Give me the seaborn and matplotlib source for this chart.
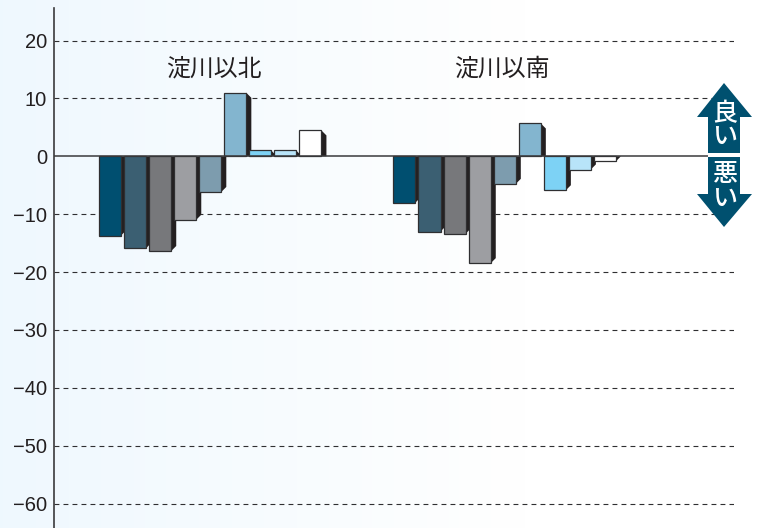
import numpy as np
import pandas as pd
import matplotlib
matplotlib.use("Agg")
import matplotlib.pyplot as plt
from matplotlib.patches import Polygon
import seaborn as sns

groups = ["淀川以北", "淀川以南"]
items = list("ABCDEFGHI")
north = [-13.7, -15.9, -16.4, -11.0, -6.2, 11.0, 1.0, 1.0, 4.5]
south = [-8.0, -13.0, -13.4, -18.5, -4.8, 5.7, -5.9, -2.3, -0.9]
colors = ["#004f70", "#3b5f72", "#77787b", "#9d9ea2", "#7d9cae",
          "#83b5cf", "#7dd2f5", "#b8e4f9", "#ffffff"]
yticks = [20, 10, 0, -10, -20, -30, -40, -50, -60]

W, H = 761, 528
sns.set_theme(style="white")
plt.rcParams["font.family"] = ["Liberation Sans", "Noto Sans CJK JP", "DejaVu Sans"]
JP = ["Noto Sans CJK JP", "DejaVu Sans"]
DARK = "#231f20"

fig = plt.figure(figsize=(W / 100, H / 100), dpi=100)

# background gradient
bg = fig.add_axes([0, 0, 1, 1], zorder=0)
grad = np.clip(np.linspace(0, 1.45, 256), 0, 1)[None, :, None]
c0, c1 = np.array([0.937, 0.973, 0.998]), np.array([1.0, 1.0, 1.0])
bg.imshow(c0 + (c1 - c0) * grad, aspect="auto", extent=[0, 1, 0, 1])
bg.axis("off")

ax = fig.add_axes([54 / W, 0, (734 - 54) / W, 520 / H], zorder=1)
ax.patch.set_alpha(0)

df = pd.DataFrame({
    "group": np.repeat(groups, len(items)),
    "item": items * 2,
    "value": north + south,
})
sns.barplot(data=df, x="group", y="value", hue="item", hue_order=items,
            palette=colors, saturation=1, width=0.765, gap=0.12, dodge=True,
            edgecolor="#2f2f31", linewidth=0.9, legend=False, ax=ax, zorder=3)

ax.set_xlim(-0.53, 1.779)
ax.set_ylim(-64.23, 25.62)
ax.set_yticks(yticks)
ax.set_yticklabels([str(t).replace("-", "−") for t in yticks], color=DARK, fontsize=14.5)
ax.set_xticks([])
ax.set_xlabel("")
ax.set_ylabel("")
ax.tick_params(axis="y", length=0, pad=5)
for s in ["top", "right", "bottom"]:
    ax.spines[s].set_visible(False)
ax.spines["left"].set_color("#3a3a3c")
ax.spines["left"].set_linewidth(1.2)
ax.yaxis.grid(True, color="#2f2f31", linewidth=0.8, linestyle=(0, (4.4, 3.7)), zorder=1)
ax.set_axisbelow(True)
ax.yaxis.get_gridlines()[yticks.index(0)].set_visible(False)

# extruded dark side of every bar
fig.canvas.draw()
to_px = ax.transData
to_data = ax.transData.inverted()
DEPTH = 5.2
bars = sorted([p for p in ax.patches if p.get_width() > 0], key=lambda p: p.get_x())
for i, p in enumerate(bars):
    p.set_zorder(3 + i * 0.01 + 0.005)
    x1 = p.get_x() + p.get_width()
    v = p.get_height() if p.get_y() == 0 else p.get_y()
    (px, py0) = to_px.transform((x1, 0))
    (_, pyv) = to_px.transform((x1, v))
    d = min(DEPTH, abs(pyv - py0))
    sign = 1 if pyv > py0 else -1
    pts = [(px, py0), (px, pyv), (px + DEPTH, pyv - sign * d), (px + DEPTH, py0)]
    ax.add_patch(Polygon(to_data.transform(pts), closed=True, facecolor=DARK,
                         edgecolor="none", zorder=3 + i * 0.01))

# baseline
(base_end, _) = to_data.transform((708, 0))
ax.plot([ax.get_xlim()[0], base_end], [0, 0], color="#3a3a3c", lw=1.1, zorder=5,
        solid_capstyle="butt")

# group titles
ax.text(0.012, 15.1, groups[0], ha="center", va="center", fontsize=17.2, family=JP,
        color=DARK, zorder=6)
ax.text(0.99, 15.1, groups[1], ha="center", va="center", fontsize=17.2, family=JP,
        color=DARK, zorder=6)

# good / bad arrow overlay in pixel coordinates
ov = fig.add_axes([0, 0, 1, 1], zorder=2)
ov.set_xlim(0, W)
ov.set_ylim(H, 0)
ov.axis("off")
TEAL = "#00506f"
ov.add_patch(Polygon([(724, 83), (752, 117), (740, 117), (740, 153), (708, 153),
                      (708, 117), (697, 117)], closed=True, fc=TEAL, ec="none"))
ov.add_patch(Polygon([(708, 157), (740, 157), (740, 194), (752, 194), (724, 227),
                      (697, 194), (708, 194)], closed=True, fc=TEAL, ec="none"))
for ch, y in [("良", 114), ("い", 138), ("悪", 174), ("い", 200)]:
    ov.text(724.5, y, ch, ha="center", va="center", fontsize=18, family=JP,
            color="white", weight="medium")

fig.savefig("out.png", dpi=100)
